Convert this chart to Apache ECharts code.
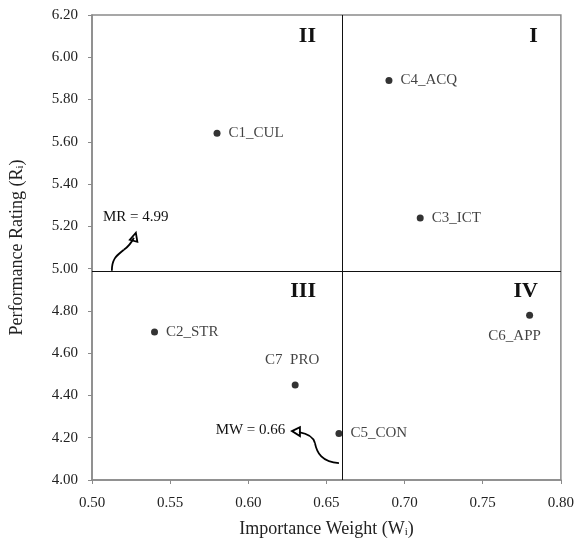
<!DOCTYPE html>
<html lang="en">
  <head>
    <meta charset="UTF-8" />
    <title>Importance-Performance Matrix</title>
    <script src="https://cdn.jsdelivr.net/npm/echarts@6/dist/echarts.min.js"></script>
    <style>
      html, body { margin: 0; padding: 0; background: #fff; }
      #main { width: 577px; height: 543px; }
    </style>
  </head>
  <body>
    <div id="main"></div>
    <script>
      // data
      const names = ["C1_CUL", "C2_STR", "C3_ICT", "C4_ACQ", "C5_CON", "C6_APP", "C7  PRO"];
      const weights = [0.58, 0.54, 0.71, 0.69, 0.658, 0.78, 0.63];
      const ratings = [5.64, 4.70, 5.24, 5.89, 4.22, 4.78, 4.45];
      const meanWeight = 0.658; // shown as 0.66
      const meanRating = 4.99;
      const xTicks = [0.5, 0.8, 0.05]; // min, max, step
      const yTicks = [4.0, 6.2, 0.2];

      const serif = "Liberation Serif";
      const ink = "#111";

      // where each point's label sits
      const labelPlace = {
        C6_APP: { position: "bottom", distance: 10, offset: [-15, 0] },
        "C7  PRO": { position: "top", distance: 14, offset: [-3, 0] },
      };

      const chart = echarts.init(document.getElementById("main"));

      const points = names.map((n, i) => {
        const item = { name: n, value: [weights[i], ratings[i]] };
        if (labelPlace[n]) item.label = labelPlace[n];
        return item;
      });

      const axisCommon = {
        axisLine: { lineStyle: { color: "#8a8a8a", width: 1.5 } },
        axisTick: { show: true, inside: false, length: 4, lineStyle: { color: "#8a8a8a" } },
        splitLine: { show: false },
        axisLabel: {
          color: "#222",
          fontFamily: serif,
          fontSize: 15,
          formatter: (v) => v.toFixed(2),
        },
        nameLocation: "middle",
        nameTextStyle: {
          rich: {
            n: { fontFamily: serif, fontSize: 18, color: "#222" },
            s: { fontFamily: serif, fontSize: 11, color: "#222", padding: [7, 0, 0, 0] },
          },
        },
      };

      const option = {
        animation: false,
        grid: {
          left: 92, right: 12, top: 15, bottom: 61,
          show: true, borderColor: "#8a8a8a", borderWidth: 1.5,
        },
        xAxis: Object.assign({}, axisCommon, {
          type: "value",
          min: xTicks[0], max: xTicks[1], interval: xTicks[2],
          name: "{n|Importance Weight (W}{s|i}{n|)}",
          nameGap: 40,
          axisLabel: Object.assign({}, axisCommon.axisLabel, { margin: 16 }),
        }),
        yAxis: Object.assign({}, axisCommon, {
          type: "value",
          min: yTicks[0], max: yTicks[1], interval: yTicks[2],
          name: "{n|Performance Rating (R}{s|i}{n|)}",
          nameGap: 66,
          axisLabel: Object.assign({}, axisCommon.axisLabel, { margin: 14 }),
        }),
        series: [
          {
            type: "scatter",
            symbolSize: 7,
            itemStyle: { color: "#000" },
            label: {
              show: true,
              position: "right",
              distance: 8,
              formatter: "{b}",
              fontFamily: serif,
              fontSize: 15,
              color: ink,
            },
            data: points,
            markLine: {
              silent: true,
              symbol: "none",
              label: { show: false },
              lineStyle: { color: ink, width: 1, type: "solid" },
              data: [{ xAxis: meanWeight }, { yAxis: meanRating }],
            },
          },
        ],
      };

      chart.setOption(option);

      // annotations: quadrant numerals, mean labels, curved arrows
      const px = (x, y) => chart.convertToPixel({ seriesIndex: 0 }, [x, y]);
      const roman = { fontFamily: serif, fontSize: 22, fontWeight: "bold", fill: "#111" };
      const quads = [
        ["I", xTicks[1], yTicks[1]],
        ["II", meanWeight, yTicks[1]],
        ["III", meanWeight, meanRating],
        ["IV", xTicks[1], meanRating],
      ];
      const graphic = quads.map(([t, x, y]) => {
        const p = px(x, y);
        return {
          type: "text",
          x: p[0] - 23, y: p[1] + 21,
          style: Object.assign({ text: t, align: "right", verticalAlign: "middle" }, roman),
        };
      });

      const mrLabel = px(0.507, 5.244);
      graphic.push({
        type: "text", x: mrLabel[0], y: mrLabel[1],
        style: { text: "MR = 4.99", fontFamily: serif, fontSize: 15, fill: ink, align: "left", verticalAlign: "middle" },
      });
      const mwLabel = px(0.6237, 4.236);
      graphic.push({
        type: "text", x: mwLabel[0], y: mwLabel[1],
        style: { text: "MW = 0.66", fontFamily: serif, fontSize: 15, fill: ink, align: "right", verticalAlign: "middle" },
      });

      const arrowStyle = { stroke: "#000", lineWidth: 1.8, fill: null };
      const curve = (a, c1, c2, b) => ({
        type: "bezierCurve",
        shape: { x1: a[0], y1: a[1], cpx1: c1[0], cpy1: c1[1], cpx2: c2[0], cpy2: c2[1], x2: b[0], y2: b[1] },
        style: arrowStyle,
      });
      const head = (pts) => ({ type: "polygon", shape: { points: pts }, style: arrowStyle });

      const mrArrow = px(0.5127, meanRating);
      graphic.push({
        type: "group", x: mrArrow[0], y: mrArrow[1],
        children: [
          curve([0, 0], [0, -13], [6, -16], [12, -21]),
          curve([12, -21], [18, -25], [20, -29], [22, -33]),
          head([[24, -38], [18, -31], [25.5, -29]]),
        ],
      });
      const mwArrow = px(meanWeight, 4.08);
      graphic.push({
        type: "group", x: mwArrow[0], y: mwArrow[1],
        children: [
          curve([0, 0], [-17, -1], [-22, -10], [-24, -20]),
          curve([-24, -20], [-26, -28], [-34, -30], [-40, -31]),
          head([[-47, -32], [-39, -36], [-39, -27]]),
        ],
      });

      chart.setOption({ graphic: graphic });
    </script>
  </body>
</html>
